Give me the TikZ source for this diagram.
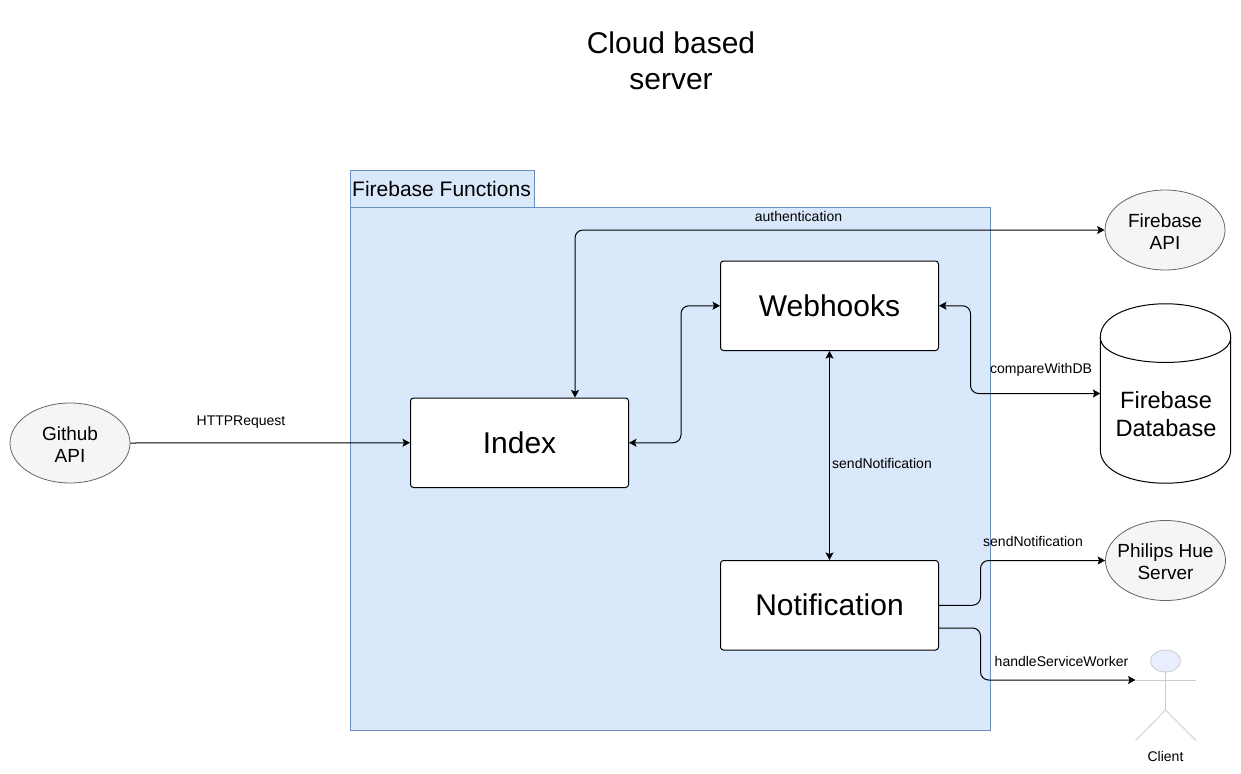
\documentclass[tikz,border=0pt]{standalone}
\usepackage{fontspec}
\setmainfont{Liberation Sans}
\usepackage{xcolor}
\usetikzlibrary{arrows.meta,shapes.geometric,positioning,calc}

\definecolor{panelfill}{HTML}{DAE8FC}
\definecolor{panelline}{HTML}{6C8EBF}
\definecolor{apifill}{HTML}{F5F5F5}
\definecolor{apiline}{HTML}{666666}
\definecolor{actorline}{HTML}{CCCCCC}
\definecolor{actorfill}{HTML}{E8EEFB}

\tikzset{
    panel/.style={draw=panelline, fill=panelfill, line width=1pt},
    funcbox/.style={draw=black, fill=white, rounded corners=3pt, line width=1pt, inner sep=0pt,
        minimum width=218pt, minimum height=89.5pt, font=\fontsize{30}{36}\selectfont},
    apinode/.style={ellipse, draw=apiline, fill=apifill, line width=0.8pt, inner sep=-8pt, align=center,
        minimum width=120pt, minimum height=80pt, font=\fontsize{19}{22}\selectfont},
    lbl/.style={inner sep=0pt, font=\fontsize{14}{17}\selectfont},
    link/.style={line width=1pt, rounded corners=8pt, -{Stealth[length=7.5pt,width=8pt,inset=1.5pt]}},
    biglink/.style={link, {Stealth[length=7.5pt,width=8pt,inset=1.5pt]}-{Stealth[length=7.5pt,width=8pt,inset=1.5pt]}},
    actorstroke/.style={draw=actorline, line width=0.8pt}
}

\begin{document}
\begin{tikzpicture}[x=1pt,y=-1pt]
\useasboundingbox (0,0) rectangle (1241,773);

% Title
\node[align=center, inner sep=0pt, font=\fontsize{30}{36}\selectfont] (title) at (671,61) {Cloud based\\server};

% Firebase Functions panel
\draw[panel] (350.5,170.5) rectangle (534.5,207.5);
\draw[panel] (350.5,207.5) rectangle (990.5,730.5);
\node[inner sep=0pt, font=\fontsize{21}{25}\selectfont] (paneltitle) at (441.5,189) {Firebase Functions};

% Function boxes
\node[funcbox] (index) at (519.5,442.75) {Index};
\node[funcbox] (webhooks) at (829.5,305.75) {Webhooks};
\node[funcbox] (notification) at (829.5,605.25) {Notification};

% Outside services
\foreach \name/\x/\y/\txt in {github/70/443/Github\\API, fbapi/1165/230/Firebase\\API, hue/1165.5/560.5/Philips Hue\\Server} {
    \node[apinode] (\name) at (\x,\y) {\rule{0pt}{16.5pt}\txt};
}

% Database
\node[inner sep=0pt, minimum width=130pt, minimum height=179pt] (db) at (1165.5,393.5) {};
\draw[fill=white, line width=1pt] ($(db.north west)+(0,33.5)$)
    .. controls ($(db.north west)+(0,-11.2)$) and ($(db.north east)+(0,-11.2)$) .. ($(db.north east)+(0,33.5)$)
    -- ($(db.south east)+(0,-33.5)$)
    .. controls ($(db.south east)+(0,11.2)$) and ($(db.south west)+(0,11.2)$) .. ($(db.south west)+(0,-33.5)$)
    -- cycle;
\draw[line width=1pt] ($(db.north west)+(0,33.5)$)
    .. controls ($(db.north west)+(0,67)$) and ($(db.north east)+(0,67)$) .. ($(db.north east)+(0,33.5)$);
\node[align=center, inner sep=0pt, font=\fontsize{23.6}{28}\selectfont] (dbtext) at (1166,414) {Firebase\\Database};

% Client actor
\draw[actorstroke, fill=actorfill] (1165.5,661) ellipse (15pt and 11pt);
\coordinate (clienthand) at (1135.5,680);
\draw[actorstroke] (1165.5,672) -- (1165.5,710);
\draw[actorstroke] (clienthand) -- (1196,680);
\draw[actorstroke] (1135.5,740.5) -- (1165.5,710) -- (1196,740.5);
\node[lbl] (client) at (1165.5,756.5) {Client};

% Connectors
\draw[link] (github.east) -- (index.west);
\draw[biglink] ([xshift=55.5pt]index.north) |- (fbapi.west);
\draw[biglink] (index.east) -- ++(52,0) |- (webhooks.west);
\draw[biglink] (webhooks.east) -- ++(31.5,0) |- (db.west);
\draw[biglink] (webhooks.south) -- (notification.north);
\draw[link] (notification.east) -- ++(41.5,0) |- (hue.west);
\draw[link] ([yshift=-22.75pt]notification.east) -- ++(41.5,0) |- (clienthand);

% Connector labels
\node[lbl] (httplabel) at (241,422) {HTTPRequest};
\node[lbl] (authlabel) at (798.5,216.5) {authentication};
\node[lbl] (comparelabel) at (1041,370) {compareWithDB};
\node[lbl] (sendlabel) at (882,463.5) {sendNotification};
\node[lbl] (huelabel) at (1033,541.5) {sendNotification};
\node[lbl] (workerlabel) at (1061.5,661.5) {handleServiceWorker};

\end{tikzpicture}
\end{document}
